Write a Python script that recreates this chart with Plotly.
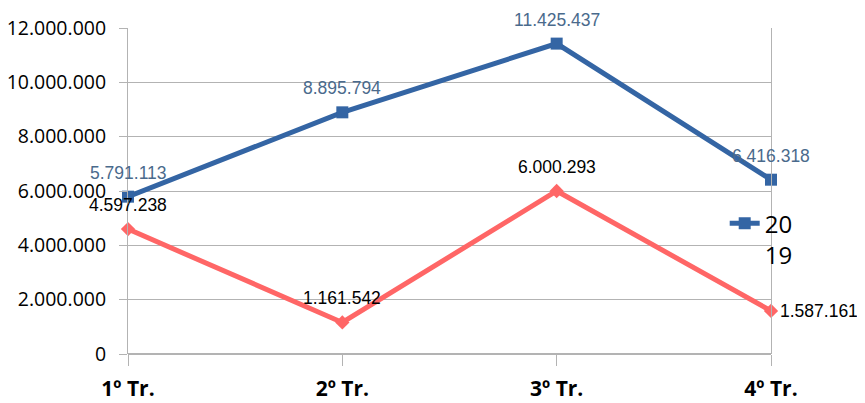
import plotly.graph_objects as go

categories = ["1º Tr.", "2º Tr.", "3º Tr.", "4º Tr."]
series_2019 = [5791113, 8895794, 11425437, 6416318]
series_other = [4597238, 1161542, 6000293, 1587161]
y_ticks = [0, 2000000, 4000000, 6000000, 8000000, 10000000, 12000000]

BLUE = "#3465a4"
RED = "#ff6666"
BLUE_LABEL = "#4a6a8c"


def fmt(v):
    return f"{v:,}".replace(",", ".")


fig = go.Figure()
fig.add_trace(go.Scatter(
    x=categories, y=series_other, mode="lines+markers",
    line=dict(color=RED, width=5), marker=dict(symbol="diamond", size=11, color=RED),
    showlegend=False, name="", cliponaxis=False,
))
fig.add_trace(go.Scatter(
    x=categories, y=series_2019, mode="lines+markers",
    line=dict(color=BLUE, width=5), marker=dict(symbol="square", size=12, color=BLUE),
    name="20<br>19", cliponaxis=False,
))

label_font = dict(family="Liberation Sans", size=17.5)
for i, (c, v) in enumerate(zip(categories, series_2019)):
    fig.add_annotation(x=c, y=v, text=fmt(v), showarrow=False, yshift=24,
                       font=dict(**label_font, color=BLUE_LABEL))
for i, (c, v) in enumerate(zip(categories, series_other)):
    if i == len(categories) - 1:
        fig.add_annotation(x=c, y=v, text=fmt(v), showarrow=False, xanchor="left",
                           xshift=7, font=dict(**label_font, color="#000000"))
    else:
        fig.add_annotation(x=c, y=v, text=fmt(v), showarrow=False, yshift=24,
                           font=dict(**label_font, color="#000000"))

fig.update_layout(
    width=857, height=395,
    margin=dict(l=120, r=94, t=20, b=49, autoexpand=False),
    paper_bgcolor="white", plot_bgcolor="white",
    separators=",.",
    legend=dict(x=0.928, y=0.4685, xanchor="left", yanchor="top", valign="top",
                font=dict(family="Open Sans", size=24, color="#000000"),
                bgcolor="rgba(0,0,0,0)", itemwidth=30),
    xaxis=dict(type="category", range=[0, 3], showgrid=False, zeroline=False,
               showline=False, ticks="outside", ticklen=11, tickcolor="#b3b3b3",
               automargin=False, ticklabelstandoff=5,
               tickfont=dict(family="Open Sans", size=21, color="#000000", weight="bold"),
               ),
    yaxis=dict(range=[0, 12000000], tickvals=y_ticks, tickformat=",d",
               automargin=False, ticklabelstandoff=9,
               showgrid=True, gridcolor="#b3b3b3", gridwidth=1,
               zeroline=True, zerolinecolor="#b3b3b3",
               showline=True, linecolor="#b3b3b3", mirror=True,
               ticks="outside", ticklen=8, tickcolor="#b3b3b3",
               tickfont=dict(family="Open Sans", size=19.5, color="#000000")),
)

fig.write_html("out.html")
